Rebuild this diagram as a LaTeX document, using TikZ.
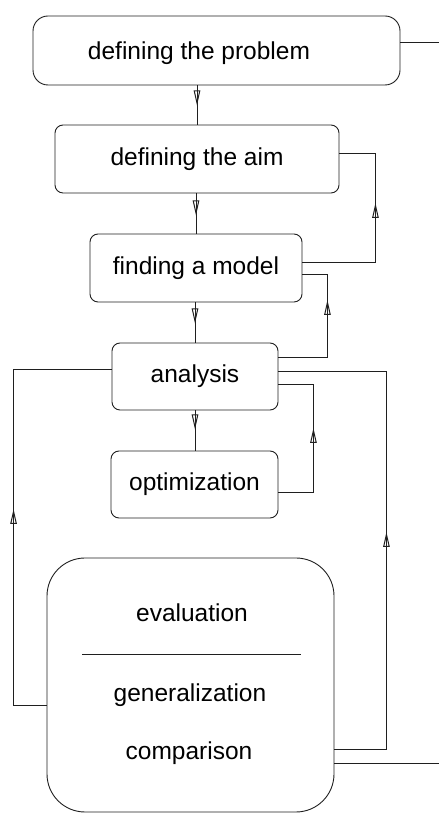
\documentclass[tikz,border=0pt]{standalone}
\usepackage{fontspec}
\setmainfont{Liberation Sans}
\usetikzlibrary{arrows.meta,decorations.markings}
\definecolor{ink}{gray}{0.12}
\tikzset{
  box/.style={draw=ink, line width=0.9pt, rounded corners=8pt, inner sep=0pt,
    font=\fontsize{24.5}{29}\selectfont},
  label text/.style={inner sep=0pt, font=\fontsize{24.5}{29}\selectfont},
  flow/.style={draw=ink, line width=0.9pt, postaction={decorate},
    decoration={markings, mark=at position #1 with
      {\arrow{Triangle[open,length=15pt,width=6.5pt,line width=1pt]}}}},
  plain/.style={draw=ink, line width=0.9pt},
}
\begin{document}
\begin{tikzpicture}[x=1pt,y=1pt]
\useasboundingbox (0,0) rectangle (439,814);

% main chain of steps
\node[box, rounded corners=15pt, minimum width=367pt, minimum height=69pt] (b1) at (216.5,763.5) {};
\node[label text] (t1) at (199,761) {defining the problem};
\node[box, minimum width=284pt, minimum height=68pt] (b2) at (197,655) {defining the aim};
\node[box, minimum width=212pt, minimum height=68pt] (b3) at (196,546) {finding a model};
\node[box, minimum width=166pt, minimum height=67pt] (an) at (195,437.5) {analysis};
\node[box, minimum width=167pt, minimum height=67pt] (op) at (194.5,329.5) {optimization};

% final stage with its three parts
\node[box, rounded corners=38pt, minimum width=287pt, minimum height=254pt] (ev) at (190.5,129) {};
\node[label text, anchor=base] (evt) at (192,192) {evaluation};
\node[label text, anchor=base] (gen) at (190,112) {generalization};
\node[label text, anchor=base] (cmp) at (189,54) {comparison};
\coordinate (rl) at (82,160);
\coordinate (rr) at (301,160);
\draw[plain] (rl) -- (rr);

% downward flow
\draw[flow=20pt] (b1.south -| b2.north) -- (b2.north);
\draw[flow=22pt] (b2.south -| b3.north) -- (b3.north);
\draw[flow=21pt] (b3.south -| an.north) -- (an.north);
\draw[flow=19pt] (an.south) -- (an.south |- op.north);
\draw[flow=22pt] (op.south -| 193,0) -- (op.south -| 193,0 |- ev.north);

% feedback loops
\draw[flow=132pt] ([yshift=6pt]b3.east) -- ++(73,0) |- ([yshift=6pt]b2.east);
\draw[flow=106pt] ([yshift=19.5pt]an.east) -- ++(49,0) |- ([yshift=-6pt]b3.east);
\draw[flow=99pt] ([yshift=-7.5pt]op.east) -- ++(35,0) |- ([yshift=-7.5pt]an.east);
\draw[flow=269pt] ([yshift=-64pt]ev.east) -- ++(52,0) |- ([yshift=5.5pt]an.east);
\draw[flow=229pt] ([yshift=-20pt]ev.west) -- ++(-33,0) |- ([yshift=7.5pt]an.west);

% lines leaving the picture
\coordinate (o1) at (439,772);
\coordinate (o2) at (439,51);
\draw[plain] (b1.east |- o1) -- (o1);
\draw[plain] (ev.east |- o2) -- (o2);
\end{tikzpicture}
\end{document}
